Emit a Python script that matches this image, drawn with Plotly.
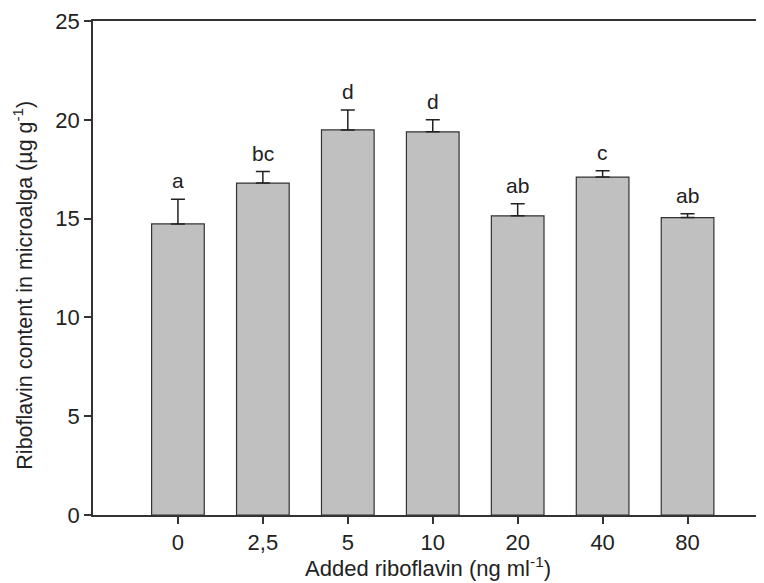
import plotly.graph_objects as go

categories = ["0", "2,5", "5", "10", "20", "40", "80"]
values = [14.73, 16.8, 19.49, 19.39, 15.14, 17.1, 15.05]
errors = [1.25, 0.58, 1.01, 0.61, 0.61, 0.32, 0.19]
letters = ["a", "bc", "d", "d", "ab", "c", "ab"]

font = "Liberation Sans, Arial, sans-serif"
axis_color = "#333333"
text_color = "#222222"

fig = go.Figure()
fig.add_trace(go.Bar(
    x=list(range(len(categories))),
    y=values,
    width=0.62,
    marker=dict(color="#c0c0c0", line=dict(color="#333333", width=1.2)),
    error_y=dict(type="data", symmetric=False, array=errors,
                 arrayminus=[0] * len(errors), color="#222222",
                 thickness=1.5, width=7),
    showlegend=False,
))

for i, (v, e, t) in enumerate(zip(values, errors, letters)):
    fig.add_annotation(x=i, y=v + e, text=t, showarrow=False,
                       yanchor="bottom", yshift=5,
                       font=dict(family=font, size=21, color=text_color))

fig.add_annotation(xref="paper", yref="paper", x=0.499, y=-0.105,
                   text="Added riboflavin (ng ml<sup>-1</sup>)", showarrow=False,
                   xanchor="center", yanchor="middle",
                   font=dict(family=font, size=22, color=text_color))
fig.add_annotation(xref="paper", yref="paper", x=-0.1045, y=0.466,
                   text="Riboflavin content in microalga (µg g<sup>-1</sup>)",
                   showarrow=False, textangle=-90,
                   xanchor="center", yanchor="middle",
                   font=dict(family=font, size=21.5, color=text_color))

fig.update_layout(
    width=756, height=575,
    margin=dict(l=85, r=0, t=13, b=68),
    plot_bgcolor="white", paper_bgcolor="white",
    font=dict(family=font, size=22, color=text_color),
    xaxis=dict(
        range=[-1, 6.9],
        tickmode="array",
        tickvals=list(range(len(categories))),
        ticktext=categories,
        showline=True, linecolor=axis_color, linewidth=1.5, mirror=True,
        ticks="outside", ticklen=7, tickcolor=axis_color, tickwidth=1.5,
        showgrid=False, zeroline=False, automargin=False,
    ),
    yaxis=dict(
        range=[0, 25],
        tickvals=[0, 5, 10, 15, 20, 25],
        showline=True, linecolor=axis_color, linewidth=1.5,
        ticks="outside", ticklen=7, tickcolor=axis_color, tickwidth=1.5,
        showgrid=False, zeroline=False, automargin=False,
    ),
)

fig.write_html("out.html")
